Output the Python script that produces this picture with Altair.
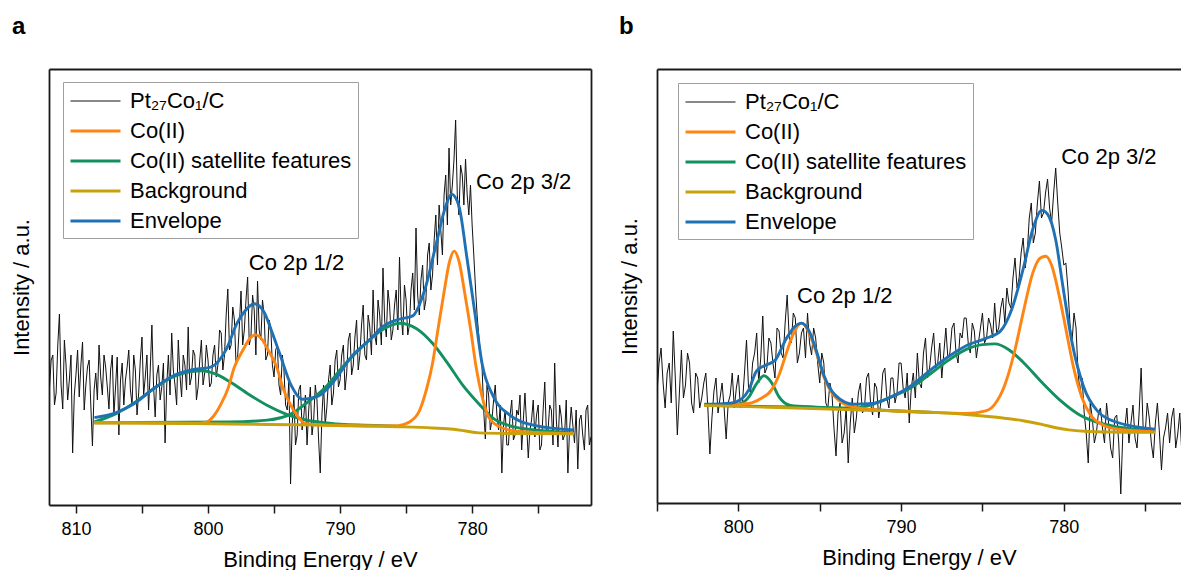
import altair as alt
import pandas as pd

FONT = "Liberation Sans"
SERIES = ["Pt₂₇Co₁/C", "Co(II)", "Co(II) satellite features", "Background", "Envelope"]
COLORS = ["#111111", "#ff8512", "#13905f", "#c9a10b", "#1f71b4"]
WIDTHS = [1.0, 2.9, 2.9, 2.9, 2.9]

# ---------------- panel a ----------------
a_raw_start = 812.0
a_raw_step = 0.125
a_raw = [
    118, 145, 150, 100, 112, 160, 191, 120,
    96, 165, 140, 105, 125, 150, 52, 110,
    130, 155, 108, 140, 163, 95, 120, 138,
    145, 100, 59, 115, 132, 105, 160, 128,
    110, 150, 138, 118, 96, 135, 150, 90,
    118, 148, 70, 125, 142, 100, 125, 138,
    155, 115, 100, 150, 135, 90, 112, 145,
    168, 110, 128, 150, 95, 135, 180, 120,
    88, 130, 140, 105, 118, 142, 62, 120,
    150, 110, 172, 135, 120, 100, 165, 130,
    108, 150, 140, 115, 178, 120, 128, 155,
    150, 105, 118, 145, 165, 120, 132, 160,
    145, 118, 122, 150, 160, 128, 140, 175,
    172, 135, 150, 190, 216, 155, 160, 198,
    185, 140, 150, 180, 214, 160, 175, 205,
    228, 160, 168, 210, 195, 150, 224, 175,
    165, 205, 190, 145, 150, 185, 178, 140,
    128, 155, 160, 120, 110, 150, 135, 100,
    95, 125, 21, 80, 110, 60, 70, 115,
    120, 75, 88, 110, 60, 95, 118, 70,
    85, 120, 105, 65, 32, 90, 120, 80,
    98, 125, 140, 100, 112, 145, 155, 118,
    125, 150, 160, 115, 132, 165, 172, 130,
    140, 168, 185, 135, 150, 180, 200, 150,
    145, 190, 178, 150, 215, 170, 160, 205,
    190, 160, 237, 185, 168, 215, 200, 165,
    175, 200, 215, 175, 248, 190, 170, 220,
    205, 170, 180, 215, 232, 195, 277, 210,
    190, 225, 240, 195, 205, 250, 262, 215,
    230, 265, 290, 240, 300, 275, 250, 310,
    330, 280, 357, 300, 320, 345, 385, 310,
    290, 340, 330, 300, 346, 310, 290, 320,
    280, 250, 218, 190, 170, 150, 138, 95,
    66, 120, 110, 75, 85, 105, 120, 90,
    75, 100, 32, 80, 95, 60, 60, 90,
    105, 65, 70, 95, 90, 110, 55, 85,
    112, 80, 47, 75, 85, 105, 68, 90,
    100, 55, 60, 95, 123, 70, 75, 100,
    95, 60, 142, 85, 58, 100, 88, 65,
    70, 105, 32, 75, 98, 80, 62, 95,
    36, 85, 90, 70, 55, 95, 100, 60,
    68,
]
a_bg_e = [808.6, 801.3, 795.5, 790.0, 785.6, 783.0, 781.4, 780.5, 779.5, 777.0, 772.3]
a_bg_i = [82.3, 81.5, 80.5, 79.8, 78.3, 77.0, 75.7, 74.0, 72.1, 71.5, 71.3]
a_co_e = [808.6, 803.0, 800.8, 800.2, 799.6, 799.0, 798.5, 798.0, 797.3, 796.9, 796.4, 795.9,
          795.5, 794.8, 794.3, 793.8, 793.2, 792.6, 791.0, 788.0, 785.6, 784.75, 784.0, 783.45,
          783.0, 782.6, 782.15, 781.7, 781.36, 781.0, 780.55, 780.1, 779.7, 779.25, 778.7,
          777.8, 776.6, 772.3]
a_co_i = [82.3, 82.0, 81.8, 82.5, 88.5, 101.3, 116.0, 137.9, 156.2, 165.3, 170.1, 165.3,
          156.2, 137.9, 116.0, 101.3, 88.5, 81.2, 79.6, 79.0, 79.4, 83.0, 94.0, 116.0,
          141.6, 174.5, 211.1, 244.0, 253.9, 244.0, 211.1, 174.5, 137.9, 108.6, 86.7,
          77.5, 73.9, 71.3]
a_sat1_e = [808.6, 807.0, 805.6, 804.15, 802.7, 801.25, 800.4, 799.5, 798.35, 796.9, 795.5,
            794.0, 792.6, 791.0, 789.7, 786.8, 785.6]
a_sat1_i = [83.0, 91.1, 102.1, 116.0, 127.7, 133.5, 134.2, 131.3, 123.3, 110.5, 99.5,
            90.4, 85.0, 82.0, 80.5, 79.4, 78.5]
a_sat2_e = [808.6, 798.35, 795.5, 793.7, 792.6, 791.1, 789.7, 788.2, 786.8, 785.5, 784.2,
            783.0, 781.85, 780.7, 779.5, 778.4, 776.9, 775.2, 772.3]
a_sat2_i = [82.3, 83.0, 84.9, 91.1, 101.3, 117.8, 139.7, 159.9, 175.2, 181.8, 176.3,
            161.7, 141.6, 119.6, 101.3, 86.7, 78.3, 75.0, 72.1]
a_env_e = [808.6, 807.0, 805.6, 804.15, 802.7, 801.25, 799.8, 798.6, 797.8, 797.2, 796.5,
           795.75, 795.2, 794.6, 793.7, 792.85, 791.7, 790.5, 789.1, 787.6, 786.8, 785.6,
           784.5, 783.6, 782.7, 782.0, 781.56, 781.0, 780.4, 779.8, 779.25, 778.4, 777.2,
           775.2, 772.3]
a_env_i = [87.4, 92.2, 101.3, 116.0, 128.8, 135.0, 137.9, 156.2, 181.8, 194.0, 201.2,
           192.8, 174.5, 152.5, 119.6, 105.7, 108.6, 123.3, 148.9, 167.2, 178.1, 185.5,
           189.1, 214.7, 262.3, 298.9, 310.9, 298.9, 247.7, 192.8, 141.6, 108.6, 90.4,
           79.4, 75.0]
a_lab_text = ["Co 2p 1/2", "Co 2p 3/2"]
a_lab_e = [793.3, 776.1]
a_lab_i = [242.0, 322.6]
a_ticks = [810, 805, 800, 795, 790, 785, 780, 775]

# ---------------- panel b ----------------
b_raw_start = 805.0
b_raw_step = 0.125
b_raw = [
    110, 140, 155, 120, 95, 130, 140, 100,
    172, 125, 68, 110, 153, 105, 118, 150,
    140, 100, 90, 130, 125, 95, 105, 120,
    130, 95, 49, 85, 112, 125, 90, 105,
    120, 95, 64, 100, 108, 130, 95, 115,
    128, 95, 100, 130, 163, 115, 110, 140,
    150, 170, 120, 145, 187, 130, 135, 165,
    160, 140, 125, 175, 172, 150, 145, 180,
    208, 165, 160, 190, 185, 140, 150, 170,
    175, 145, 190, 160, 148, 175, 165, 140,
    120, 150, 140, 100, 95, 120, 110, 75,
    47, 90, 100, 60, 70, 95, 40, 80,
    105, 70, 85, 110, 120, 90, 95, 125,
    130, 100, 88, 120, 115, 85, 100, 130,
    135, 105, 95, 125, 125, 100, 110, 140,
    140, 115, 105, 130, 80, 115, 130, 105,
    150, 120, 115, 150, 165, 125, 135, 155,
    170, 135, 140, 160, 125, 150, 175, 145,
    150, 175, 180, 150, 140, 170, 165, 185,
    185, 160, 150, 180, 172, 145, 160, 175,
    190, 160, 165, 185, 178, 165, 200, 170,
    175, 195, 205, 180, 215, 200, 195, 225,
    245, 215, 225, 250, 265, 235, 250, 285,
    300, 260, 270, 300, 322, 285, 290, 310,
    324, 295, 280, 310, 335, 300, 270, 255,
    238, 240, 215, 180, 160, 190, 175, 130,
    110, 125, 90, 70, 40, 100, 85, 60,
    70, 90, 95, 75, 60, 100, 80, 55,
    45, 85, 88, 60, 9, 70, 75, 95,
    60, 80, 98, 65, 55, 90, 135, 75,
    70, 100, 85, 60, 45, 80, 100, 70,
    33, 65, 75, 90, 60, 85, 95, 55,
    69, 90, 50,
]
b_bg_e = [802.1, 792.9, 786.0, 783.65, 782.5, 781.35, 780.4, 779.7, 778.5, 774.4]
b_bg_i = [97.6, 93.3, 88.5, 84.8, 82.3, 78.6, 75.0, 73.1, 71.5, 70.6]
b_co_e = [802.1, 800.05, 799.35, 798.65, 797.95, 797.5, 797.05, 796.6, 796.12, 795.65,
          795.2, 794.75, 794.05, 792.9, 790.6, 788.3, 786.0, 784.8, 784.25, 783.65,
          783.05, 782.5, 781.9, 781.45, 781.1, 780.75, 780.3, 779.85, 779.4, 778.9,
          778.35, 777.65, 776.7, 774.4]
b_co_i = [97.6, 98.7, 99.5, 104.2, 113.4, 128.0, 150.0, 170.0, 179.9, 170.0,
          150.0, 126.2, 106.1, 95.8, 92.2, 90.7, 89.6, 92.2, 98.7, 117.0,
          150.0, 190.2, 230.4, 245.0, 246.8, 237.7, 208.4, 171.9, 135.3, 106.1,
          87.8, 78.6, 73.9, 71.3]
b_sat1_e = [802.1, 800.0, 799.35, 798.9, 798.43, 797.97, 797.5, 796.8, 795.2, 792.9, 788.0]
b_sat1_i = [97.6, 98.9, 106.1, 118.9, 127.3, 120.7, 106.1, 97.6, 95.8, 94.0, 90.5]
b_sat2_e = [802.1, 795.2, 792.9, 790.6, 789.4, 788.3, 787.1, 786.0, 785.0, 784.23, 783.4,
            782.5, 781.35, 780.2, 779.0, 777.9, 776.7, 774.4]
b_sat2_i = [97.6, 95.5, 95.1, 106.1, 115.2, 128.0, 142.6, 153.6, 158.4, 159.1, 153.6,
            140.8, 120.7, 102.4, 87.8, 80.5, 76.1, 72.0]
b_env_e = [802.1, 800.5, 799.8, 799.35, 798.9, 798.43, 797.75, 797.05, 796.47, 796.12,
           795.65, 795.2, 794.75, 794.05, 792.9, 791.75, 790.6, 789.4, 788.3, 787.1,
           786.0, 784.8, 783.9, 783.2, 782.5, 781.9, 781.35, 781.0, 780.5, 780.05,
           779.5, 778.8, 777.9, 776.7, 774.4]
b_env_i = [98.7, 99.8, 104.2, 113.4, 131.7, 137.1, 142.6, 164.6, 177.4, 179.9,
           171.9, 151.8, 128.0, 107.9, 98.7, 99.5, 106.1, 117.0, 131.7, 146.3,
           157.3, 164.6, 171.9, 193.8, 234.0, 274.3, 292.6, 288.9, 263.3, 215.8,
           160.9, 117.0, 91.4, 80.5, 73.9]
b_lab_text = ["Co 2p 1/2", "Co 2p 3/2"]
b_lab_e = [793.46, 777.23]
b_lab_i = [206.6, 345.6]
b_ticks = [805, 800, 795, 790, 785, 780, 775]


def long_df(parts):
    rows = []
    for series, comp, es, ys in parts:
        for e, y in zip(es, ys):
            rows.append({"E": e, "I": y, "series": series, "comp": comp})
    return pd.DataFrame(rows)


def grid(start, step, values):
    return [round(start - step * k, 4) for k in range(len(values))]


def panel(df, lab_df, dom_x, dom_y, ticks, letter, dx, lx, ly, width, height, right_frame):
    xs = alt.Scale(domain=dom_x, nice=False, zero=False)
    ys = alt.Scale(domain=dom_y, nice=False, zero=False)
    xaxis = alt.Axis(values=ticks, labelExpr="datum.value % 10 == 0 ? datum.label : ''",
                     tickSize=8, labelPadding=7, labelFlush=False, title="Binding Energy / eV",
                     titlePadding=11, grid=False)
    yaxis = alt.Axis(labels=False, ticks=False, title="Intensity / a.u.", titlePadding=16,
                     grid=False)
    legend = alt.Legend(orient="none", legendX=lx, legendY=ly, title=None,
                        symbolType="M-1,0H3", symbolSize=625,
                        labelFont=FONT, labelFontSize=22, labelLimit=400,
                        labelColor="black", strokeColor="#a0a0a0", fillColor="white",
                        padding=6, rowPadding=5, labelOffset=33)
    color = alt.Color("series:N", scale=alt.Scale(domain=SERIES, range=COLORS), legend=legend)
    sw = alt.StrokeWidth("series:N", scale=alt.Scale(type="ordinal", domain=SERIES, range=WIDTHS),
                         legend=legend)
    base = alt.Chart(df)
    layers = []
    for name, interp in [(SERIES[0], "linear"), (SERIES[2], "monotone"), (SERIES[1], "monotone"),
                         (SERIES[4], "monotone"), (SERIES[3], "monotone")]:
        layers.append(
            base.transform_filter(alt.datum.series == name)
            .mark_line(interpolate=interp, clip=True)
            .encode(x=alt.X("E:Q", scale=xs, axis=xaxis),
                    y=alt.Y("I:Q", scale=ys, axis=yaxis),
                    color=color, strokeWidth=sw, detail="comp:N")
        )
    labels = alt.Chart(lab_df).mark_text(font=FONT, fontSize=22, color="black").encode(
        x=alt.X("E:Q", scale=xs, axis=xaxis), y=alt.Y("I:Q", scale=ys, axis=yaxis), text="t:N")
    content = alt.layer(*layers, labels)
    frame_df = pd.DataFrame({"E": [dom_x[0]], "I": [dom_y[0]]})
    yframe = alt.Axis(orient="right", labels=False, ticks=False, title=None, grid=False) if right_frame else None
    frame = alt.Chart(frame_df).mark_point(opacity=0).encode(
        x=alt.X("E:Q", scale=xs, axis=alt.Axis(orient="top", labels=False, ticks=False, title=None, grid=False)),
        y=alt.Y("I:Q", scale=ys, axis=yframe),
    )
    return alt.layer(content, frame).resolve_scale(x="independent", y="independent").properties(
        width=width, height=height,
        title=alt.TitleParams(letter, anchor="start", frame="group", dx=dx, offset=30,
                              fontSize=24, font=FONT, fontWeight="bold", color="black"),
    )


a_df = long_df([
    (SERIES[0], "raw", grid(a_raw_start, a_raw_step, a_raw), a_raw),
    (SERIES[1], "co", a_co_e, a_co_i),
    (SERIES[2], "sat1", a_sat1_e, a_sat1_i),
    (SERIES[2], "sat2", a_sat2_e, a_sat2_i),
    (SERIES[3], "bg", a_bg_e, a_bg_i),
    (SERIES[4], "env", a_env_e, a_env_i),
])
b_df = long_df([
    (SERIES[0], "raw", grid(b_raw_start, b_raw_step, b_raw), b_raw),
    (SERIES[1], "co", b_co_e, b_co_i),
    (SERIES[2], "sat1", b_sat1_e, b_sat1_i),
    (SERIES[2], "sat2", b_sat2_e, b_sat2_i),
    (SERIES[3], "bg", b_bg_e, b_bg_i),
    (SERIES[4], "env", b_env_e, b_env_i),
])
a_lab = pd.DataFrame({"E": a_lab_e, "I": a_lab_i, "t": a_lab_text})
b_lab = pd.DataFrame({"E": b_lab_e, "I": b_lab_i, "t": b_lab_text})

pa = panel(a_df, a_lab, [812.04, 771.0], [0, 436], a_ticks, "a", -37, 14, 13, 542, 436, True)
pb = panel(b_df, b_lab, [805.0, 772.8], [0, 434], b_ticks, "b", -38, 21, 14, 524, 434, False)

chart = alt.hconcat(pa, pb, spacing=27).resolve_scale(
    color="independent", strokeWidth="independent"
).properties(
    padding={"left": 10, "top": 15, "right": 0, "bottom": 0}
).configure_view(stroke=None).configure_axis(
    domainColor="#1a1a1a", domainWidth=1.8, tickColor="#1a1a1a", tickWidth=1.5,
    labelFont=FONT, labelFontSize=18, labelColor="black",
    titleFont=FONT, titleFontSize=22, titleFontWeight="normal", titleColor="black",
)

chart.save("out.html", embed_options={"renderer": "svg", "actions": False})
